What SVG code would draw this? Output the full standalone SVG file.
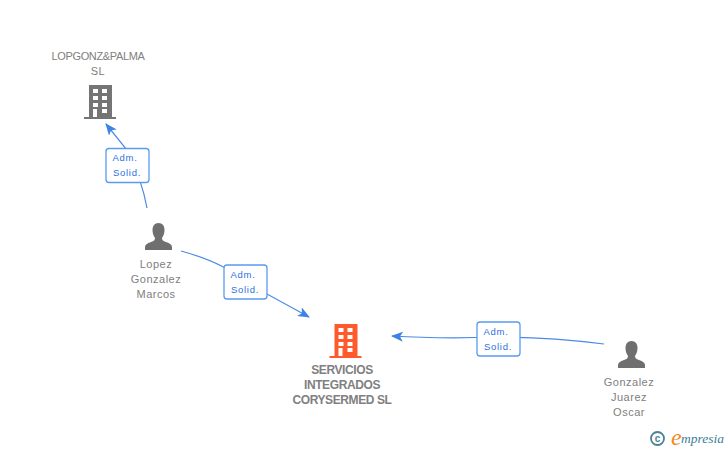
<svg xmlns="http://www.w3.org/2000/svg" width="728" height="450" viewBox="0 0 728 450">
<defs>
<style>
.n{font-family:"Liberation Sans",Arial,sans-serif;font-size:11px;fill:#808080;text-anchor:middle;letter-spacing:.5px}
.u{letter-spacing:-.35px}
.b{font-weight:bold;font-size:12px;letter-spacing:-.4px}
.l{font-family:"Liberation Sans",sans-serif;font-size:9.500px;letter-spacing:.7px;fill:#2b70e0;text-anchor:middle}
.e{fill:none;stroke:#4a8ae6;stroke-width:1.2}
.lb{fill:#fff;stroke:#5a9af0;stroke-width:1.3}
.w{fill:#fff}
</style>
<marker id="ah" viewBox="0 0 12 10" refX="11" refY="5" markerWidth="12" markerHeight="10" markerUnits="userSpaceOnUse" orient="auto"><path d="M0 0L12 5L0 10L3 5Z" fill="#3d82e4"/></marker>
<g id="bld"><path d="M5 0H28V32H32V34H0V32H5Z"/><g class="w"><rect x="9" y="4" width="5" height="4"/><rect x="18" y="4" width="5" height="4"/><rect x="9" y="11" width="5" height="4"/><rect x="18" y="11" width="5" height="4"/><rect x="9" y="18" width="5" height="4"/><rect x="18" y="18" width="5" height="4"/><rect x="9" y="24" width="4" height="8"/><rect x="18" y="24" width="5" height="4"/></g></g>
<path id="per" d="M13.500 0C9.500 0 7.500 3 7.500 7C7.500 10 8.500 13 10 15C10 17 9 18 6 19C2 20.500 0 21.500 0 24V27H27V24C27 21.500 25 20.500 21 19C18 18 17 17 17 15C18.500 13 19.500 10 19.500 7C19.500 3 17.500 0 13.500 0Z" fill="#6f6f6f"/>
</defs>
<rect width="728" height="450" fill="#fff"/>
<g id="connectors">
<path class="e" d="M147 208Q142 180 127 150L106 124" marker-end="url(#ah)"/>
<path class="e" d="M181 251Q225 263 245 282L309 317" marker-end="url(#ah)"/>
<path class="e" d="M604 344Q550 337 498 337Q440 339 392 336" marker-end="url(#ah)"/>
</g>
<g id="n1"><use href="#bld" x="84" y="85" fill="#757575"/><text class="n u" x="98" y="60">LOPGONZ&amp;PALMA</text><text class="n" x="98" y="75">SL</text></g>
<g id="n2"><use href="#per" x="145" y="223"/><text class="n" x="156" y="268">Lopez</text><text class="n" x="156" y="283">Gonzalez</text><text class="n" x="156" y="298">Marcos</text></g>
<g id="n3"><use href="#bld" x="329.500" y="324" fill="#ff5a2c"/><text class="n b" x="342" y="374">SERVICIOS</text><text class="n b" x="342" y="389">INTEGRADOS</text><text class="n b" x="342" y="404">CORYSERMED SL</text></g>
<g id="n4"><use href="#per" x="618" y="341"/><text class="n" x="629" y="386">Gonzalez</text><text class="n" x="629" y="401">Juarez</text><text class="n" x="629" y="416">Oscar</text></g>
<g id="l1"><rect class="lb" x="106" y="148.500" width="43" height="34" rx="3"/><text class="l" x="125" y="161">Adm.</text><text class="l" x="127" y="176">Solid.</text></g>
<g id="l2"><rect class="lb" x="224" y="265" width="43" height="34" rx="3"/><text class="l" x="243" y="278">Adm.</text><text class="l" x="245" y="293">Solid.</text></g>
<g id="l3"><rect class="lb" x="477" y="322" width="43" height="34" rx="3"/><text class="l" x="496" y="335">Adm.</text><text class="l" x="498" y="350">Solid.</text></g>
<g id="logo"><circle cx="657.500" cy="438.500" r="6.500" fill="none" stroke="#4a8098" stroke-width="1.800"/><text x="657.500" y="442" font-family="Liberation Sans,sans-serif" font-weight="bold" font-size="10" fill="#4a8098" text-anchor="middle">c</text><text x="671" y="445" font-family="Liberation Serif,serif" font-style="italic" font-size="24" fill="#f08a1c">e</text><text x="681" y="443" font-family="Liberation Serif,serif" font-style="italic" font-size="13.500" fill="#3a7f96">mpresia</text></g>
</svg>
